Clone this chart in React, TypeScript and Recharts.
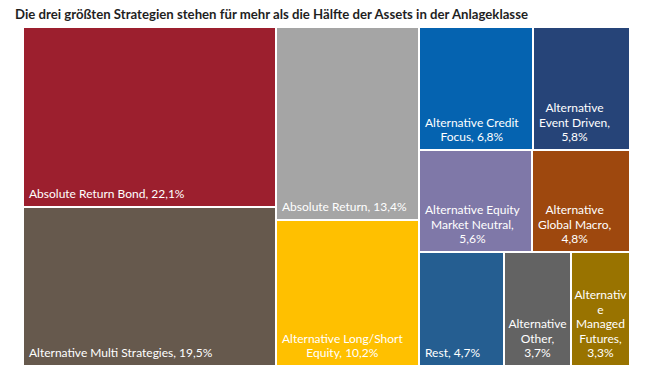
import React from 'react';
import { Treemap } from 'recharts';

const TITLE = 'Die drei größten Strategien stehen für mehr als die Hälfte der Assets in der Anlageklasse';

const names = [
  'Absolute Return Bond',
  'Alternative Multi Strategies',
  'Absolute Return',
  'Alternative Long/Short Equity',
  'Alternative Credit Focus',
  'Alternative Event Driven',
  'Alternative Equity Market Neutral',
  'Alternative Global Macro',
  'Rest',
  'Alternative Other',
  'Alternative Managed Futures',
];
const shares = [22.1, 19.5, 13.4, 10.2, 6.8, 5.8, 5.6, 4.8, 4.7, 3.7, 3.3];
const colors = [
  '#9C1F2E', '#66594D', '#A5A5A5', '#FFC000', '#0563B0', '#264478',
  '#7F78A8', '#9E480E', '#255E91', '#636363', '#997300',
];

const data = names.map((name, i) => ({ name, value: shares[i] }));

const FONT = 'Lato, "Open Sans", sans-serif';
const FS = 12;
const PAD = 4;
const LINE_H = 14.5;

let ctx: CanvasRenderingContext2D | null = null;
function measure(s: string): number {
  if (!ctx) ctx = document.createElement('canvas').getContext('2d');
  if (!ctx) return s.length * 6;
  ctx.font = `${FS}px ${FONT}`;
  return ctx.measureText(s).width;
}

function wrap(text: string, maxW: number, charMaxW: number): string[] {
  const words = text.split(' ');
  const lines: string[] = [];
  let cur = '';
  const pushWord = (w: string) => {
    if (measure(w) > charMaxW) {
      let part = '';
      for (const ch of w) {
        if (measure(part + ch) > charMaxW && part) {
          lines.push(part);
          part = ch;
        } else part += ch;
      }
      return part;
    }
    return w;
  };
  for (const w of words) {
    const cand = cur ? cur + ' ' + w : w;
    if (measure(cand) <= maxW) {
      cur = cand;
    } else {
      if (cur) lines.push(cur);
      cur = pushWord(w);
    }
  }
  if (cur) lines.push(cur);
  return lines;
}

function fmt(v: number) {
  return v.toFixed(1).replace('.', ',') + '%';
}

function CellContent(props: any) {
  const { x, y, width, height, depth, index, name, value } = props;
  if (depth !== 1) return null;
  const label = `${name}, ${fmt(value)}`;
  const lines = wrap(label, width - 2 * PAD, width - 4);
  const blockW = Math.max(...lines.map(measure));
  const left = Math.min(x + PAD + 2, x + (width - blockW) / 2);
  const cx = left + blockW / 2;
  const lastBase = y + height - 9;
  return (
    <g>
      <rect x={x} y={y} width={width} height={height} fill={colors[index]} stroke="#ffffff" strokeWidth={2} />
      {lines.map((l, k) => (
        <text
          key={k}
          x={cx}
          y={lastBase - (lines.length - 1 - k) * LINE_H}
          textAnchor="middle"
          fill="#ffffff"
          fontSize={FS}
          fontFamily={FONT}
        >
          {l}
        </text>
      ))}
    </g>
  );
}

export default function App() {
  return (
    <div style={{ position: 'absolute', left: 0, top: 0, width: 650, height: 378, background: '#ffffff', overflow: 'hidden' }}>
      <svg width={650} height={26} style={{ position: 'absolute', left: 0, top: 0 }}>
        <text x={15} y={19} fontFamily={FONT} fontWeight="bold" fontSize={13} fill="#1f1f1f" textLength={513} lengthAdjust="spacingAndGlyphs">
          {TITLE}
        </text>
      </svg>
      <div style={{ position: 'absolute', left: 23, top: 27 }}>
        <Treemap
          width={607}
          height={339}
          data={data}
          dataKey="value"
          aspectRatio={1}
          isAnimationActive={false}
          content={<CellContent />}
        />
      </div>
    </div>
  );
}
